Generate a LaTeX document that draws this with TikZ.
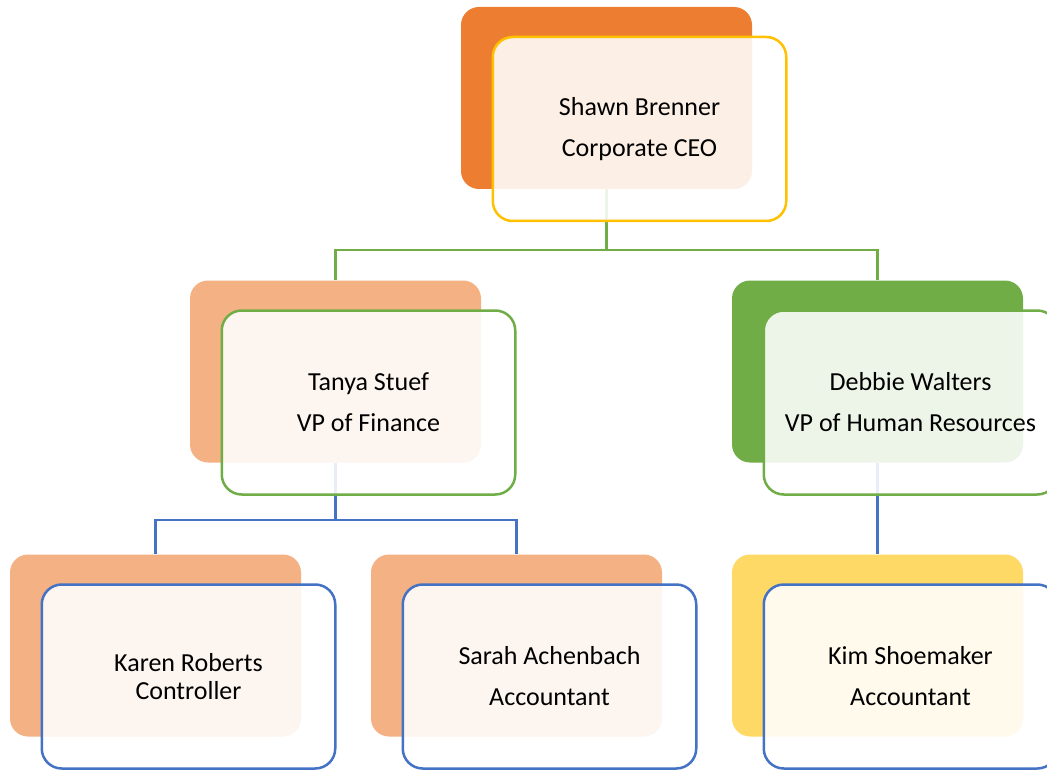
\documentclass[tikz,border=0pt]{standalone}
\usepackage{fontspec}
\setmainfont{Carlito}
\definecolor{ceoorange}{HTML}{ED7D31}
\definecolor{peach}{HTML}{F4B183}
\definecolor{hrgreen}{HTML}{70AD47}
\definecolor{gold}{HTML}{FFC000}
\definecolor{lightgold}{HTML}{FFD966}
\definecolor{linkblue}{HTML}{4472C4}
\tikzset{
  backbox/.style={rectangle, rounded corners=18pt, minimum width=291pt,
    minimum height=182pt, inner sep=0pt, fill=#1},
  frontbox/.style={rectangle, rounded corners=20pt, minimum width=293.5pt,
    minimum height=184pt, inner sep=0pt, draw=#1, line width=2.5pt,
    fill=white, fill opacity=0.88, text opacity=1, align=center,
    font=\fontsize{26}{41}\selectfont, xshift=33pt, yshift=-31pt},
  link/.style={line width=2.5pt, draw=#1},
}
\begin{document}
\begin{tikzpicture}[x=1pt,y=-1pt]
\useasboundingbox (0,0) rectangle (1047,770);
\clip (0,0) rectangle (1047,770);
% coloured back cards
\node[backbox=ceoorange] (ceo) at (606.5,98) {};
\node[backbox=peach] (fin) at (335.5,371.5) {};
\node[backbox=hrgreen] (hr) at (877.5,371.5) {};
\node[backbox=peach] (karen) at (155.5,645.5) {};
\node[backbox=peach] (sarah) at (516.5,645.5) {};
\node[backbox=lightgold] (kim) at (877.5,645.5) {};
% connectors
\coordinate (ceoj) at (606.5,250);
\coordinate (finj) at (335.5,520);
\draw[link=hrgreen] (ceo.south) -- (ceoj) -| (fin.north);
\draw[link=hrgreen] (ceoj) -| (hr.north);
\draw[link=linkblue] (fin.south) -- (finj) -| (karen.north);
\draw[link=linkblue] (finj) -| (sarah.north);
\draw[link=linkblue] (hr.south) -- (kim.north);
% front cards with the names
\node[frontbox=gold] (ceotext) at (ceo) {Shawn Brenner\\Corporate CEO};
\node[frontbox=hrgreen] (fintext) at (fin) {Tanya Stuef\\VP of Finance};
\node[frontbox=hrgreen] (hrtext) at (hr) {Debbie Walters\\VP of Human Resources};
\node[frontbox=linkblue, font=\fontsize{26}{28}\selectfont] (karentext) at (karen) {Karen Roberts\\Controller};
\node[frontbox=linkblue] (sarahtext) at (sarah) {Sarah Achenbach\\Accountant};
\node[frontbox=linkblue] (kimtext) at (kim) {Kim Shoemaker\\Accountant};
\end{tikzpicture}
\end{document}
